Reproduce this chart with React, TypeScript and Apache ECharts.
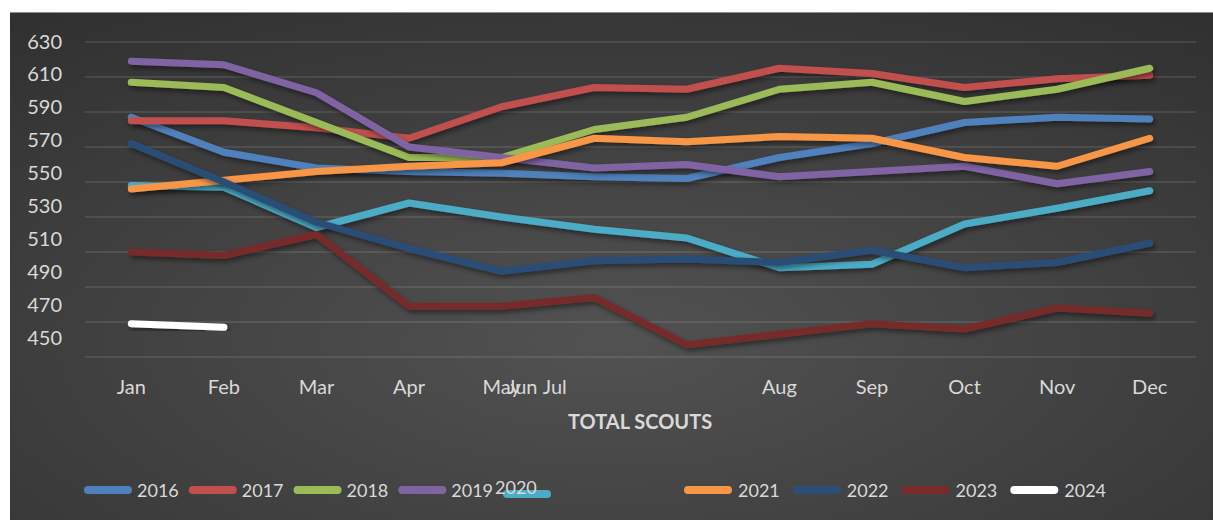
import React, { useEffect, useRef } from 'react';
import * as echarts from 'echarts';

const months = ['Jan', 'Feb', 'Mar', 'Apr', 'May', 'Jun', 'Jul', 'Aug', 'Sep', 'Oct', 'Nov', 'Dec'];
const yTickLabels = [450, 470, 490, 510, 530, 550, 570, 590, 610, 630];

const data2016 = [587, 567, 558, 556, 555, 553, 552, 564, 572, 584, 587, 586];
const data2017 = [585, 585, 581, 575, 593, 604, 603, 615, 612, 604, 609, 611];
const data2018 = [607, 604, 584, 564, 564, 580, 587, 603, 607, 596, 603, 615];
const data2019 = [619, 617, 601, 570, 564, 558, 560, 553, 556, 559, 549, 556];
const data2020 = [548, 547, 524, 538, 530, 523, 518, 501, 503, 526, 535, 545];
const data2021 = [546, 551, 556, 559, 561, 575, 573, 576, 575, 564, 559, 575];
const data2022 = [572, 550, 527, 512, 499, 505, 506, 504, 511, 501, 504, 515];
const data2023 = [510, 508, 520, 479, 479, 484, 457, 463, 469, 466, 478, 475];
const data2024 = [469, 467, null, null, null, null, null, null, null, null, null, null];

const seriesNames = ['2016', '2017', '2018', '2019', '2020', '2021', '2022', '2023', '2024'];
const seriesData = [data2016, data2017, data2018, data2019, data2020, data2021, data2022, data2023, data2024];
const seriesColors = ['#4F81BD', '#C0504D', '#9BBB59', '#8064A2', '#4BACC6', '#F79646', '#2C4D75', '#772C2A', '#FFFFFF'];

const chartTitle = 'TOTAL SCOUTS';
const FONT = 'Lato';
const TXT = '#d9d9d9';
const pill = 'path://M4,0L44,0A4,4,0,0,1,44,8L4,8A4,4,0,0,1,4,0Z';

export default function App() {
  const ref = useRef<HTMLDivElement>(null);
  useEffect(() => {
    const chart = echarts.init(ref.current as HTMLDivElement, null, { renderer: 'svg' });
    const legendText = { color: TXT, fontSize: 18, fontFamily: FONT };
    const option: any = {
      animation: false,
      graphic: {
        elements: [
          {
            type: 'rect',
            z: -100,
            silent: true,
            shape: { x: 0, y: 0, width: 1203, height: 507 },
            style: {
              fill: {
                type: 'radial',
                x: 0.5,
                y: 0.65,
                r: 1.0,
                colorStops: [
                  { offset: 0, color: '#525252' },
                  { offset: 1, color: '#282828' },
                ],
              },
            },
          },
        ],
      },
      title: {
        text: chartTitle,
        left: 558,
        top: 398,
        padding: 0,
        textStyle: { color: TXT, fontSize: 20, fontWeight: 'bold', fontFamily: FONT },
      },
      legend: [
        {
          data: seriesNames.slice(0, 4),
          left: 74,
          top: 468,
          padding: 0,
          itemWidth: 48,
          itemHeight: 8,
          itemGap: 10,
          icon: pill,
          textStyle: legendText,
        },
        {
          data: ['2020'],
          left: 493,
          top: 477,
          padding: 0,
          itemWidth: 48,
          itemHeight: 8,
          icon: pill,
          formatter: () => '',
          textStyle: legendText,
        },
        {
          data: ['2020'],
          left: 480,
          top: 465,
          padding: 0,
          itemWidth: 0,
          itemHeight: 8,
          icon: 'none',
          textStyle: legendText,
        },
        {
          data: seriesNames.slice(5),
          left: 674,
          top: 468,
          padding: 0,
          itemWidth: 50,
          itemHeight: 8,
          itemGap: 13,
          icon: pill,
          textStyle: legendText,
        },
      ],
      grid: [
        {
          left: 75,
          right: 17,
          top: 29,
          bottom: 163,
          containLabel: false,
          outerBoundsMode: 'none',
        },
        {
          left: 75,
          right: 17,
          top: 27.5,
          height: 296.7,
          containLabel: false,
          outerBoundsMode: 'none',
        },
      ],
      xAxis: [
        {
          type: 'category',
          gridIndex: 0,
          data: months,
          boundaryGap: true,
          axisLine: { show: false },
          axisTick: { show: false },
          splitLine: { show: false },
          axisLabel: {
            interval: 0,
            margin: 19,
            color: TXT,
            fontSize: 20,
            fontFamily: FONT,
            formatter: (v: string) => (v === 'Jun' ? '{jun|Jun}' : v === 'Jul' ? '{jul|Jul}' : v),
            rich: {
              jun: { padding: [0, 144, 0, 0], color: TXT, fontSize: 20, fontFamily: FONT },
              jul: { padding: [0, 264, 0, 0], color: TXT, fontSize: 20, fontFamily: FONT },
            },
          },
        },
        {
          type: 'category',
          gridIndex: 1,
          data: months,
          show: false,
        },
      ],
      yAxis: [
        {
          type: 'value',
          gridIndex: 0,
          min: 450,
          max: 630,
          interval: 20,
          axisLine: { show: false },
          axisTick: { show: false },
          axisLabel: { show: false },
          splitLine: { show: true, lineStyle: { color: 'rgba(217,217,217,0.16)', width: 1.5 } },
        },
        {
          type: 'value',
          gridIndex: 1,
          min: 450,
          max: 630,
          interval: 20,
          axisLine: { show: false },
          axisTick: { show: false },
          splitLine: { show: false },
          axisLabel: {
            show: true,
            customValues: yTickLabels,
            margin: 23,
            color: TXT,
            fontSize: 20,
            fontFamily: FONT,
          },
        },
      ],
      series: seriesNames.map((name, i) => ({
        name,
        type: 'line',
        data: seriesData[i],
        xAxisIndex: 0,
        yAxisIndex: 0,
        showSymbol: false,
        symbol: 'none',
        connectNulls: false,
        color: seriesColors[i],
        lineStyle: {
          color: seriesColors[i],
          width: 7,
          cap: 'round',
          join: 'round',
          shadowColor: 'rgba(0,0,0,0.45)',
          shadowBlur: 5,
          shadowOffsetX: 2,
          shadowOffsetY: 3,
        },
      })),
    };
    chart.setOption(option);
    return () => chart.dispose();
  }, []);
  return (
    <div style={{ position: 'fixed', left: 0, top: 0, width: 1213, height: 520, background: '#ffffff' }}>
      <div
        ref={ref}
        style={{
          position: 'absolute',
          left: 10,
          top: 12,
          width: 1203,
          height: 507,
          borderTop: '1px solid #8c8c8c',
        }}
      />
    </div>
  );
}
